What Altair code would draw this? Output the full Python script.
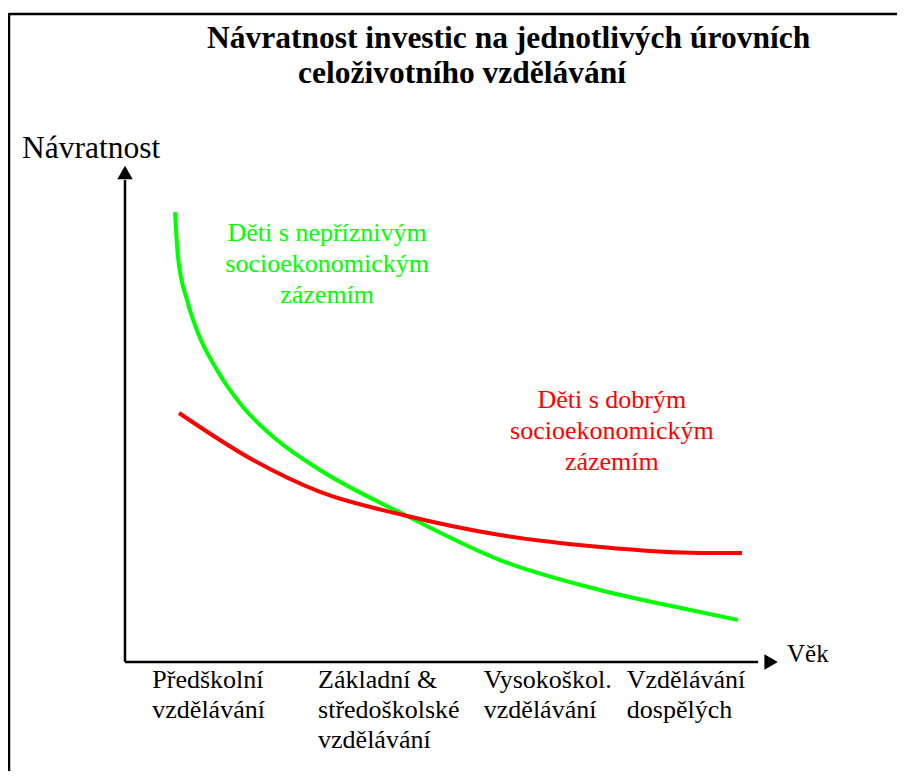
import altair as alt
import pandas as pd

# ---------------- data ----------------
TITLE_LINES = ["Návratnost investic na jednotlivých úrovních", "celoživotního vzdělávání"]
Y_AXIS_LABEL = "Návratnost"
X_AXIS_LABEL = "Věk"
STAGE_LABELS = [
    "Předškolní\nvzdělávání",
    "Základní &\nstředoškolské\nvzdělávání",
    "Vysokoškol.\nvzdělávání",
    "Vzdělávání\ndospělých",
]
STAGE_START = [0.42, 2.97, 5.52, 7.72]  # where each stage label starts on the age axis

GREEN_LABEL = "Děti s nepříznivým\nsocioekonomickým\nzázemím"
RED_LABEL = "Děti s dobrým\nsocioekonomickým\nzázemím"

green_age = [0.77, 0.815, 0.954, 1.123, 1.415, 1.815, 2.338, 3.00, 4.308, 5.769, 7.308, 8.846, 9.431]
green_return = [9.054, 8.149, 7.284, 6.620, 5.875, 5.131, 4.467, 3.863, 2.958, 2.052, 1.449, 1.006, 0.845]

red_age = [0.831, 1.969, 3.00, 4.277, 5.769, 7.308, 8.846, 9.492]
red_return = [5.010, 4.064, 3.421, 2.958, 2.555, 2.314, 2.193, 2.193]

# ---------------- layout ----------------
W, H = 650, 497
PAD = {"left": 117, "top": 157, "right": 122, "bottom": 109}
FONT = "Liberation Serif, Times New Roman, DejaVu Serif, serif"
GREEN = "#00ff00"
RED = "#ff0000"

xs = alt.Scale(domain=[0, 10], nice=False, zero=False)
ys = alt.Scale(domain=[0, 10], nice=False, zero=False)


def X(f="x"):
    return alt.X(f"{f}:Q", scale=xs, axis=None)


def Y(f="y"):
    return alt.Y(f"{f}:Q", scale=ys, axis=None)


one = pd.DataFrame({"k": [0]})

green_df = pd.DataFrame({"x": green_age, "y": green_return})
red_df = pd.DataFrame({"x": red_age, "y": red_return})

green_line = alt.Chart(green_df).mark_line(color=GREEN, strokeWidth=4, interpolate="monotone").encode(x=X(), y=Y())
red_line = alt.Chart(red_df).mark_line(color=RED, strokeWidth=4, interpolate="monotone").encode(x=X(), y=Y())

# axes with arrows
yaxis_df = pd.DataFrame({"x": [0, 0], "y": [0, 9.70]})
xaxis_df = pd.DataFrame({"x": [0, 9.74], "y": [0, 0]})
yaxis = alt.Chart(yaxis_df).mark_line(color="black", strokeWidth=2.5).encode(x=X(), y=Y())
xaxis = alt.Chart(xaxis_df).mark_line(color="black", strokeWidth=2.5).encode(x=X(), y=Y())
yarrow = alt.Chart(pd.DataFrame({"x": [0], "y": [9.85]})).mark_point(
    shape="triangle-up", filled=True, size=240, color="black", opacity=1
).encode(x=X(), y=Y())
xarrow = alt.Chart(pd.DataFrame({"x": [9.94], "y": [0]})).mark_point(
    shape="triangle-right", filled=True, size=240, color="black", opacity=1
).encode(x=X(), y=Y())

# frame (top and left edges of a box around the figure)
frame_top = alt.Chart(one).mark_rule(color="black", strokeWidth=2.5).encode(
    x=alt.value(-116), x2=alt.value(800), y=alt.value(-151)
)
frame_left = alt.Chart(one).mark_rule(color="black", strokeWidth=2.5).encode(
    x=alt.value(-116), y=alt.value(-152), y2=alt.value(700)
)


def txt(text, x, y, size, color="black", align="left", bold=False):
    kw = dict(text=text, font=FONT, fontSize=size, color=color, align=align, baseline="alphabetic")
    if bold:
        kw["fontWeight"] = "bold"
    return alt.Chart(one).mark_text(**kw).encode(x=x, y=y)


title1 = txt(TITLE_LINES[0], alt.value(82), alt.value(-117), 31.5, bold=True)
title2 = txt(TITLE_LINES[1], alt.value(173), alt.value(-82), 31.5, bold=True)
ylab = txt(Y_AXIS_LABEL, alt.value(-103), alt.value(-7), 31.5)
xlab = txt(X_AXIS_LABEL, alt.value(662), alt.value(497), 25)

stage_df = pd.DataFrame({"x": STAGE_START, "y": [-0.523] * len(STAGE_START), "label": STAGE_LABELS})
stages = alt.Chart(stage_df).transform_calculate(
    lines="split(datum.label, '\\n')"
).mark_text(font=FONT, fontSize=26, color="black", align="left", baseline="alphabetic", lineHeight=30).encode(
    x=X(), y=Y(), text="lines:N"
)

green_lab = alt.Chart(pd.DataFrame({"x": [3.11], "y": [8.47], "t": [GREEN_LABEL]})).transform_calculate(
    lines="split(datum.t, '\\n')"
).mark_text(font=FONT, fontSize=26, color=GREEN, align="center", baseline="alphabetic", lineHeight=31).encode(
    x=X(), y=Y(), text="lines:N"
)
red_lab = alt.Chart(pd.DataFrame({"x": [7.49], "y": [5.11], "t": [RED_LABEL]})).transform_calculate(
    lines="split(datum.t, '\\n')"
).mark_text(font=FONT, fontSize=26, color=RED, align="center", baseline="alphabetic", lineHeight=31).encode(
    x=X(), y=Y(), text="lines:N"
)

chart = alt.layer(
    frame_top, frame_left,
    green_line, red_line,
    yaxis, xaxis, yarrow, xarrow,
    title1, title2, ylab, xlab,
    stages, green_lab, red_lab,
).properties(
    width=W, height=H, autosize=alt.AutoSizeParams(type="none"), padding=PAD, background="white"
).configure_view(stroke=None)

chart.save("out.html", embed_options={"renderer": "svg", "actions": False})
